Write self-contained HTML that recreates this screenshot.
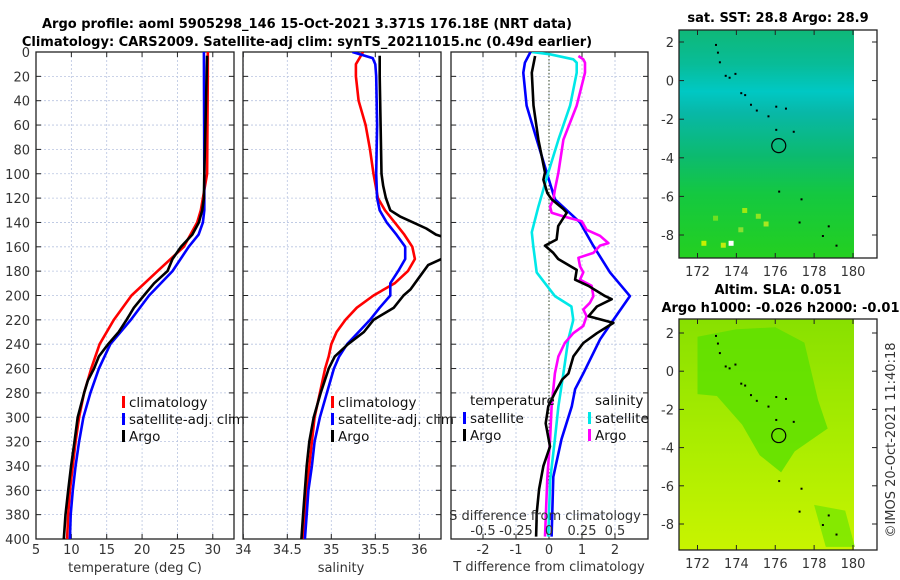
<!DOCTYPE html>
<html><head><meta charset="utf-8">
<style>
html,body{margin:0;padding:0;background:#fff;}
svg{display:block;font-family:"DejaVu Sans","Liberation Sans",sans-serif;}
.tk{font-size:13px;fill:#333;}
.ttl{font-size:13px;font-weight:bold;fill:#000;}
.lg{font-size:13.5px;fill:#111;}
</style></head>
<body>
<svg id="fig" width="900" height="580" viewBox="0 0 900 580" xmlns="http://www.w3.org/2000/svg">
<defs>
<clipPath id="c1"><rect x="36" y="52" width="198" height="487"/></clipPath>
<clipPath id="c2"><rect x="243" y="52" width="198" height="487"/></clipPath>
<clipPath id="c3"><rect x="451" y="52" width="197" height="487"/></clipPath>
<linearGradient id="sstg" x1="0" y1="0" x2="0" y2="1">
<stop offset="0" stop-color="#0fb878"/><stop offset="0.15" stop-color="#08bc98"/>
<stop offset="0.27" stop-color="#00c8c4"/><stop offset="0.36" stop-color="#08b8a8"/>
<stop offset="0.55" stop-color="#0cba70"/><stop offset="0.72" stop-color="#14c840"/>
<stop offset="1" stop-color="#24d020"/></linearGradient>
<linearGradient id="slag" x1="0" y1="0" x2="0" y2="1">
<stop offset="0" stop-color="#88e000"/><stop offset="0.5" stop-color="#a8ec00"/>
<stop offset="1" stop-color="#c8f400"/></linearGradient>
</defs>
<text class="ttl" x="307" y="28" text-anchor="middle">Argo profile: aoml 5905298_146 15-Oct-2021 3.371S 176.18E (NRT data)</text>
<text class="ttl" x="307" y="46" text-anchor="middle">Climatology: CARS2009. Satellite-adj clim: synTS_20211015.nc (0.49d earlier)</text>
<g id="layer"></g>
</svg>
<script>
// ---------- data ----------
const depthTicks=[0,20,40,60,80,100,120,140,160,180,200,220,240,260,280,300,320,340,360,380,400];
const tTicks=[5,10,15,20,25,30];
const sTicks=[34,34.5,35,35.5,36];
const dtTicks=[-2,-1,0,1,2];
const dsTicks=[-0.5,-0.25,0,0.25,0.5];
const dsTickLabels=["-0.5","-0.25","0","0.25","0.5"];
const lonTicks=[172,174,176,178,180];
const latTicks=[2,0,-2,-4,-6,-8];

const tClimD=[0,20,100,130,140,160,180,200,220,240,260,280,300,320,340,360,380,400];
const tClimV=[29.3,29.3,29.2,28.3,27.8,25.9,22.2,18.5,16.0,14.0,12.8,11.8,11.1,10.6,10.2,9.8,9.55,9.4];
const tSatD=[0,100,130,140,150,160,180,200,220,240,260,280,300,320,340,360,380,400];
const tSatV=[28.74,28.8,28.8,28.6,28.0,26.6,24.3,21.0,18.4,15.5,13.9,12.7,11.7,11.1,10.6,10.2,9.9,9.8];
const tArgoD=[3,100,120,130,140,150,160,170,180,190,200,210,220,230,240,250,260,270,280,300,320,340,360,380,400];
const tArgoV=[29.2,28.8,28.74,28.5,28.03,27.1,25.5,24.3,23.6,21.7,20.26,18.84,17.8,16.7,15.2,13.9,13.2,12.33,11.8,10.9,10.45,9.97,9.55,9.17,8.93];

const sClimD=[0,5,10,20,40,60,80,100,120,130,140,150,160,170,180,190,200,210,220,230,240,250,260,280,300,320,340,360,380,400];
const sClimV=[35.36,35.32,35.28,35.28,35.31,35.39,35.44,35.48,35.53,35.61,35.72,35.83,35.92,35.95,35.87,35.72,35.48,35.29,35.16,35.06,35.0,34.97,34.93,34.87,34.81,34.78,34.75,34.72,34.7,34.68];
const sSatD=[0,5,10,20,60,100,120,130,140,150,160,170,180,190,200,210,220,230,240,250,260,280,300,320,340,360,380,400];
const sSatV=[35.24,35.47,35.5,35.51,35.52,35.51,35.52,35.55,35.63,35.74,35.84,35.84,35.76,35.67,35.67,35.55,35.44,35.31,35.18,35.09,35.03,34.95,34.87,34.81,34.78,34.74,34.72,34.7];
const sArgoD=[3,20,60,100,110,120,130,135,140,145,150,155,160,165,170,175,185,195,200,210,220,230,240,250,260,280,300,320,340,360,380,400];
const sArgoV=[35.55,35.55,35.56,35.57,35.59,35.62,35.67,35.78,35.93,36.08,36.19,36.4,36.5,36.4,36.25,36.1,36.0,35.9,35.82,35.71,35.48,35.37,35.19,35.04,34.97,34.88,34.8,34.75,34.72,34.7,34.68,34.66];

const dtSatD=[0,8.8,17,44,72,99,121,140,159,181,200.5,220,236,264,277,291,318,349,398];
const dtSatV=[-0.56,-0.73,-0.78,-0.68,-0.37,-0.07,0.18,0.94,1.34,1.85,2.45,1.95,1.55,1.04,0.79,0.69,0.38,0.13,0.08];
const dtArgoD=[3.3,17,44,72,99,105,116,121,129,132,143,154,159,165,170,179,187,192,200.5,203,209,217,222.5,231,239,250,264,269,280,291,305,324,340,359,378,398];
const dtArgoV=[-0.42,-0.52,-0.47,-0.32,-0.12,-0.17,-0.05,0.08,0.44,0.54,0.28,0.23,-0.12,0.13,0.28,0.84,0.79,1.19,1.70,1.90,1.45,1.20,1.95,1.45,1.04,0.74,0.59,0.40,0.18,-0.02,-0.1,0.03,-0.17,-0.3,-0.37,-0.39];
const dsSatD=[0,1.9,6,8.8,17,44,72,99,127,148,159,181,200.5,209,220,236,264,291,318,352,398];
const dsSatV=[-0.13,0.008,0.184,0.21,0.21,0.16,0.071,-0.005,-0.08,-0.13,-0.12,-0.093,0.045,0.17,0.184,0.146,0.109,0.071,0.045,0.008,-0.005];
const dsArgoD=[3.3,6,8.8,17,44,72,99,113,121,127,132,135,139,146,151,157,159,165,169,176,181,187,192,200.5,206,211.5,217,225,231,239,250,264,291,318,350,398];
const dsArgoV=[0.223,0.26,0.273,0.273,0.21,0.109,0.071,0.045,0.033,0.008,0.02,0.109,0.248,0.285,0.386,0.45,0.386,0.336,0.223,0.235,0.26,0.235,0.323,0.336,0.31,0.26,0.285,0.26,0.184,0.12,0.071,0.045,0.02,0.008,-0.013,-0.03];

const islandLon=[172.9,173.0,173.1,173.4,173.6,173.9,174.2,174.4,174.7,175.0,175.6,176.0,176.5,176.0,176.9,176.15,177.3,177.2,178.4,178.7,179.1];
const islandLat=[1.9,1.5,1.0,0.3,0.2,0.4,-0.6,-0.7,-1.2,-1.5,-1.8,-1.3,-1.4,-2.5,-2.6,-5.7,-6.1,-7.3,-8.0,-7.5,-8.5];
const argoLon=176.18, argoLat=-3.371;

// ---------- helpers ----------
const NS='http://www.w3.org/2000/svg';
const L=document.getElementById('layer');
function mk(tag,attrs,parent){const e=document.createElementNS(NS,tag);for(const k in attrs)e.setAttribute(k,attrs[k]);(parent||L).appendChild(e);return e;}
const Y0=52,Y1=539;
function yD(d){return Y0+(d/400)*(Y1-Y0);}
function lin(d0,d1,r0,r1){return v=>r0+(v-d0)/(d1-d0)*(r1-r0);}

function panel(x0,x1,xs,xticks,xlabels,name){
  const g=mk('g',{});
  
  
  xticks.forEach(t=>{const x=xs(t);const ln=mk('line',{x1:x,x2:x,y1:Y0,y2:Y1,stroke:'#b8c4e0','stroke-width':0.8,'stroke-dasharray':'2,2'},g);
    });
  depthTicks.forEach(d=>{const y=yD(d);const ln=mk('line',{x1:x0,x2:x1,y1:y,y2:y,stroke:'#b8c4e0','stroke-width':0.8,'stroke-dasharray':'2,2'},g);
    
    mk('line',{x1:x0,x2:x0+5,y1:y,y2:y,stroke:'#222'},g);mk('line',{x1:x1-5,x2:x1,y1:y,y2:y,stroke:'#222'},g);});
  xticks.forEach(t=>{const x=xs(t);mk('line',{x1:x,x2:x,y1:Y1-5,y2:Y1,stroke:'#222'},g);mk('line',{x1:x,x2:x,y1:Y0,y2:Y0+5,stroke:'#222'},g);});
  const fr=mk('rect',{x:x0,y:Y0,width:x1-x0,height:Y1-Y0,fill:'none',stroke:'#222','stroke-width':1.3},g);
  
  if(xlabels){xticks.forEach((t,i)=>{const tx=mk('text',{x:xs(t),y:554,'text-anchor':'middle',class:'tk'},g);tx.textContent=xlabels[i];
    });}
  return g;
}
function series(D,V,xs,color,clip,name,w){
  const pts=D.map((d,i)=>xs(V[i]).toFixed(1)+','+yD(d).toFixed(1)).join(' ');
  const p=mk('polyline',{points:pts,fill:'none',stroke:color,'stroke-width':w||2.6,'stroke-linejoin':'round','clip-path':'url(#'+clip+')'});
  
}
function legendItem(x,y,color,label,name){
  const r=mk('rect',{x:x,y:y-10,width:3,height:12,fill:color});
  
  const t=mk('text',{x:x+7,y:y+1,class:'lg'});t.textContent=label;
  
}
function txt(x,y,s,cls,name,anchor,extra){const t=mk('text',Object.assign({x:x,y:y,class:cls,'text-anchor':anchor||'start'},extra||{}));t.textContent=s;
  return t;}

// depth labels
depthTicks.forEach(d=>{txt(30,yD(d)+5,String(d),'tk','depth-tick-label','end');});

// Panel 1 temperature
const xT=lin(5,33,36,234);
panel(36,234,xT,tTicks,tTicks.map(String),'temperature');
series(tClimD,tClimV,xT,'#ff0000','c1','temperature-climatology-line');
series(tSatD,tSatV,xT,'#0000ff','c1','temperature-satellite-line');
series(tArgoD,tArgoV,xT,'#000000','c1','temperature-argo-line');
txt(135,572,'temperature (deg C)','tk','temperature-x-axis-title','middle');
legendItem(122,406,'#ff0000','climatology','legend-climatology');
legendItem(122,423,'#0000ff','satellite-adj. clim','legend-satellite-adj');
legendItem(122,440,'#000000','Argo','legend-argo');

// Panel 2 salinity
const xS=lin(34,36.25,243.3,441.3);
panel(243,441,xS,sTicks,sTicks.map(String),'salinity');
series(sClimD,sClimV,xS,'#ff0000','c2','salinity-climatology-line');
series(sSatD,sSatV,xS,'#0000ff','c2','salinity-satellite-line');
series(sArgoD,sArgoV,xS,'#000000','c2','salinity-argo-line');
txt(341,572,'salinity','tk','salinity-x-axis-title','middle');
legendItem(331,406,'#ff0000','climatology','legend-climatology-2');
legendItem(331,423,'#0000ff','satellite-adj. clim','legend-satellite-adj-2');
legendItem(331,440,'#000000','Argo','legend-argo-2');

// Panel 3 difference
const xDT=lin(0,1,549,582);
const xDS=lin(0,1,549,681);
panel(451,648,xDT,dtTicks,dtTicks.map(String),'difference');
const zl=mk('line',{x1:xDT(0),x2:xDT(0),y1:Y0,y2:Y1,stroke:'#334422','stroke-width':1,'stroke-dasharray':'1.5,2'});

series(dtSatD,dtSatV,xDT,'#0000ff','c3','t-diff-satellite-line');
series(dsSatD,dsSatV,xDS,'#00e8e8','c3','s-diff-satellite-line');
series(dsArgoD,dsArgoV,xDS,'#ff00ff','c3','s-diff-argo-line');
series(dtArgoD,dtArgoV,xDT,'#000000','c3','t-diff-argo-line');
txt(549,571,'T difference from climatology','tk','t-diff-x-axis-title','middle');
txt(545,520,'S difference from climatology','tk','s-diff-axis-title','middle');
dsTicks.forEach((t,i)=>txt(xDS(t),535,dsTickLabels[i],'tk','s-diff-tick-label','middle'));
txt(470,405,'temperature','lg','legend-temperature-heading');
legendItem(463,422,'#0000ff','satellite','legend-t-satellite');
legendItem(463,439,'#000000','Argo','legend-t-argo');
txt(595,405,'salinity','lg','legend-salinity-heading');
legendItem(588,422,'#00e8e8','satellite','legend-s-satellite');
legendItem(588,439,'#ff00ff','Argo','legend-s-argo');

// ---------- maps ----------
function map(top,bot,lat2y,latm8y,fill,name){
  const xL=lin(172,180,697.5,853);
  const yL=lin(2,-8,lat2y,latm8y);
  const g=mk('g',{});
  const r=mk('rect',{x:679,y:top,width:854-679,height:bot-top,fill:fill},g);
  
  return {g,xL,yL};
}
let m1=map(30,258,42,235,'url(#sstg)','sst-map');
const spk=[[172.2,-8.3,'#c8f000'],[173.2,-8.4,'#c0ec10'],[174.3,-6.6,'#a0e810'],[175.4,-7.3,'#a8e820'],[173.6,-8.3,'#ffffff'],[172.8,-7.0,'#70e020'],[175.0,-6.9,'#90e420'],[174.1,-7.6,'#88e030']];
spk.forEach(s=>{const q=mk('rect',{x:m1.xL(s[0]),y:m1.yL(s[1]),width:5,height:5,fill:s[2]},m1.g);});
let m2=map(319,550,333,524,'url(#slag)','sla-map');
const blob=mk('path',{d:'',fill:'#5ee000',opacity:0.85},m2.g);

const bl=[[172,1.8],[174,2.2],[176,2.3],[177.5,1.5],[178.2,-1.5],[178.7,-3],[177,-4.2],[176.3,-5.3],[175.2,-4.4],[174.3,-2.8],[173,-1.3],[172,-1.2]];
blob.setAttribute('d','M'+bl.map(p=>m2.xL(p[0]).toFixed(1)+','+m2.yL(p[1]).toFixed(1)).join(' L')+' Z');
const blob2=mk('path',{d:'',fill:'#7ee800',opacity:0.9},m2.g);

const bl2=[[178,-7],[179.6,-7.3],[180.1,-9.2],[178.6,-9.2]];
blob2.setAttribute('d','M'+bl2.map(p=>m2.xL(p[0]).toFixed(1)+','+m2.yL(p[1]).toFixed(1)).join(' L')+' Z');

[m1,m2].forEach((m,k)=>{
  const top=k?319:30,bot=k?550:258;
  islandLon.forEach((lo,i)=>{const d=mk('rect',{x:m.xL(lo),y:m.yL(islandLat[i]),width:2,height:2,fill:'#000'},m.g);});
  const c=mk('circle',{cx:m.xL(argoLon),cy:m.yL(argoLat),r:7,fill:'none',stroke:'#000','stroke-width':1.2},m.g);
  
  const f=mk('rect',{x:679,y:top,width:198,height:bot-top,fill:'none',stroke:'#222','stroke-width':1.3},m.g);
  
  lonTicks.forEach(t=>{const x=m.xL(t);mk('line',{x1:x,x2:x,y1:bot-5,y2:bot,stroke:'#222'},m.g);mk('line',{x1:x,x2:x,y1:top,y2:top+5,stroke:'#222'},m.g);
    txt(x,bot+18,String(t),'tk','map-lon-tick-label','middle');});
  latTicks.forEach(t=>{const y=m.yL(t);mk('line',{x1:679,x2:684,y1:y,y2:y,stroke:'#222'},m.g);mk('line',{x1:872,x2:877,y1:y,y2:y,stroke:'#222'},m.g);
    txt(674,y+5,String(t),'tk','map-lat-tick-label','end');});
});
txt(778,22,'sat. SST: 28.8 Argo: 28.9','ttl','sst-map-title','middle');
txt(778,294,'Altim. SLA: 0.051','ttl','sla-map-title','middle');
txt(785,312,'Argo h1000: -0.026 h2000: -0.018','ttl','sla-map-subtitle','middle');
txt(895,440,'©IMOS 20-Oct-2021 11:40:18','tk','imos-credit','middle',{transform:'rotate(-90 895 440)'});
</script>
</body></html>
